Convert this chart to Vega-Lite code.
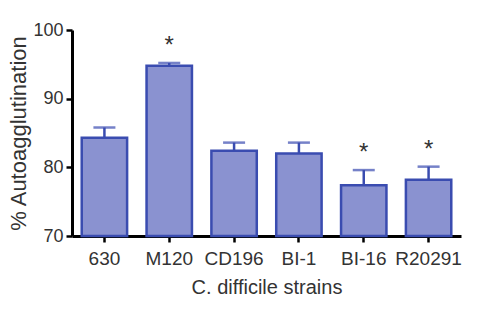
{
  "$schema": "https://vega.github.io/schema/vega-lite/v6.json",
  "width": 389,
  "height": 206,
  "autosize": {"type": "none"},
  "padding": {"left": 72, "top": 30, "right": 23, "bottom": 76},
  "background": "white",
  "config": {
    "view": {"stroke": null},
    "font": "Liberation Sans",
    "axis": {"grid": false}
  },
  "data": {
    "values": [
      {"strain": "630", "mean": 84.3, "upper": 85.8, "sig": ""},
      {"strain": "M120", "mean": 94.8, "upper": 95.2, "sig": "*"},
      {"strain": "CD196", "mean": 82.4, "upper": 83.6, "sig": ""},
      {"strain": "BI-1", "mean": 82.0, "upper": 83.6, "sig": ""},
      {"strain": "BI-16", "mean": 77.4, "upper": 79.6, "sig": "*"},
      {"strain": "R20291", "mean": 78.2, "upper": 80.1, "sig": "*"}
    ]
  },
  "encoding": {
    "x": {
      "field": "strain",
      "type": "nominal",
      "sort": null,
      "scale": {"paddingInner": 0.3, "paddingOuter": 0.15},
      "axis": {
        "title": "C. difficile strains",
        "titleFontSize": 20,
        "titleFontWeight": "normal",
        "titleColor": "#333333",
        "titlePadding": 9,
        "labelAngle": 0,
        "labelFontSize": 19,
        "labelColor": "#333333",
        "labelPadding": 7,
        "domainColor": "#000000",
        "domainWidth": 3,
        "tickColor": "#000000",
        "tickWidth": 2.5,
        "tickSize": 6
      }
    }
  },
  "layer": [
    {
      "mark": {"type": "bar", "fill": "#8a92d0", "stroke": "#3a4cb0", "strokeWidth": 2.5},
      "encoding": {
        "y": {
          "field": "mean",
          "type": "quantitative",
          "scale": {"domain": [70, 100], "nice": false, "zero": false},
          "axis": {
            "title": "% Autoagglutination",
            "titleFontSize": 22,
            "titleFontWeight": "normal",
            "titleColor": "#333333",
            "titlePadding": 2,
            "values": [70, 80, 90, 100],
            "labelFontSize": 18,
            "labelColor": "#333333",
            "labelPadding": 3,
            "domainColor": "#000000",
            "domainWidth": 3,
            "tickColor": "#000000",
            "tickWidth": 2.5,
            "tickSize": 6
          }
        },
        "y2": {"datum": 70}
      }
    },
    {
      "mark": {"type": "rule", "color": "#3a4cb0", "strokeWidth": 2.5},
      "encoding": {
        "y": {"field": "mean", "type": "quantitative"},
        "y2": {"field": "upper"}
      }
    },
    {
      "mark": {"type": "tick", "color": "#3a4cb0", "thickness": 2.5, "size": 22, "orient": "horizontal"},
      "encoding": {
        "y": {"field": "upper", "type": "quantitative"}
      }
    },
    {
      "mark": {"type": "text", "fontSize": 24, "dy": -5, "baseline": "bottom", "color": "#333333"},
      "encoding": {
        "y": {"field": "upper", "type": "quantitative"},
        "text": {"field": "sig"}
      }
    }
  ]
}
